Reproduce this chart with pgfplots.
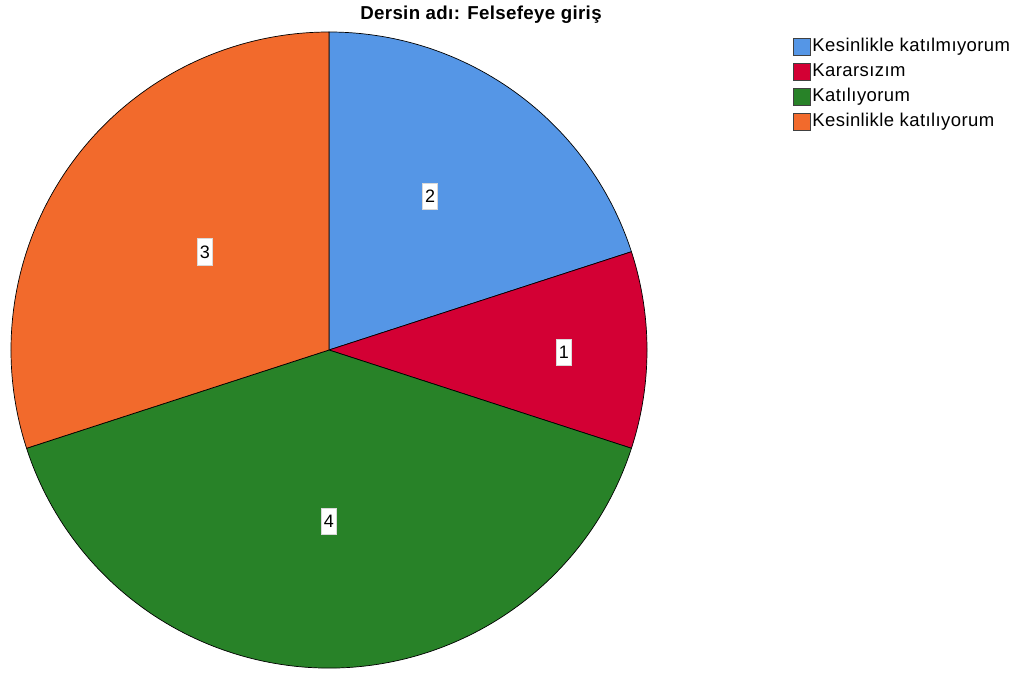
\documentclass[border=0pt]{standalone}
\usepackage{pgfplots}
\pgfplotsset{compat=1.18}
\usepackage{pgfplotstable}
\usepackage{fontspec}
\setmainfont{Liberation Sans}
\newfontfamily\legfont{Liberation Sans}[LetterSpace=2.2]
\newfontfamily\titfont{Liberation Sans}[LetterSpace=1.8]
\definecolor{cA}{RGB}{85,150,230}
\definecolor{cB}{RGB}{211,0,52}
\definecolor{cC}{RGB}{40,130,40}
\definecolor{cD}{RGB}{242,106,44}
\tikzset{lbl/.style={fill=white, draw=white!85!black, line width=0.4pt, inner xsep=2.5pt, inner ysep=7pt,
    font=\fontsize{18}{20}\selectfont}}

% value = count; lr = label distance (fraction of radius); la = label angle shift
\pgfplotstableread{
value lr la
2 0.579 2.7
1 0.739 -0.5
4 0.538 0
3 0.497 -2.3
}\piedata

\newcommand\getval[3]{\pgfplotstablegetelem{#1}{#2}\of\piedata\global\let#3\pgfplotsretval}

\begin{document}%
\begin{tikzpicture}
\getval{0}{value}\vA \getval{1}{value}\vB \getval{2}{value}\vC \getval{3}{value}\vD
\getval{0}{lr}\rA \getval{1}{lr}\rB \getval{2}{lr}\rC \getval{3}{lr}\rD
\getval{0}{la}\sA \getval{1}{la}\sB \getval{2}{la}\sC \getval{3}{la}\sD
\pgfmathsetmacro\tot{\vA+\vB+\vC+\vD}
\pgfmathsetmacro\aA{90}
\pgfmathsetmacro\aB{\aA-360*\vA/\tot}
\pgfmathsetmacro\aC{\aB-360*\vB/\tot}
\pgfmathsetmacro\aD{\aC-360*\vC/\tot}
\pgfmathsetmacro\aE{\aD-360*\vD/\tot}
\pgfmathsetmacro\mA{(\aA+\aB)/2+\sA}
\pgfmathsetmacro\mB{(\aB+\aC)/2+\sB}
\pgfmathsetmacro\mC{(\aC+\aD)/2+\sC}
\pgfmathsetmacro\mD{(\aD+\aE)/2+\sD}
\pgfmathsetmacro\dA{\rA*318}
\pgfmathsetmacro\dB{\rB*318}
\pgfmathsetmacro\dC{\rC*318}
\pgfmathsetmacro\dD{\rD*318}
\begin{axis}[
  width=1020pt, height=673pt, scale only axis,
  xmin=0, xmax=1020, ymin=0, ymax=673,
  enlargelimits=false, hide axis, clip=false,
  legend image code/.code={\draw[#1,draw=black!75,line width=0.7pt] (0pt,-8.5pt) rectangle (17pt,8.5pt);},
  legend cell align=left,
  legend style={at={(793/1020,1-38/673)}, anchor=north west, draw=none, fill=none,
    inner sep=0pt, row sep=7pt, column sep=1pt,
    font=\legfont\fontsize{18.5}{20}\selectfont,
    nodes={inner sep=0.5pt, text height=13pt, text depth=4pt}},
]
\addlegendimage{fill=cA}\addlegendentry{Kesinlikle katılmıyorum}
\addlegendimage{fill=cB}\addlegendentry{Kararsızım}
\addlegendimage{fill=cC}\addlegendentry{Katılıyorum}
\addlegendimage{fill=cD}\addlegendentry{Kesinlikle katılıyorum}
\filldraw[fill=cA, draw=black, line width=0.7pt] (axis cs:329,323) -- ++(\aA:318pt) arc[start angle=\aA, end angle=\aB, radius=318pt] -- cycle;
\filldraw[fill=cB, draw=black, line width=0.7pt] (axis cs:329,323) -- ++(\aB:318pt) arc[start angle=\aB, end angle=\aC, radius=318pt] -- cycle;
\filldraw[fill=cC, draw=black, line width=0.7pt] (axis cs:329,323) -- ++(\aC:318pt) arc[start angle=\aC, end angle=\aD, radius=318pt] -- cycle;
\filldraw[fill=cD, draw=black, line width=0.7pt] (axis cs:329,323) -- ++(\aD:318pt) arc[start angle=\aD, end angle=\aE, radius=318pt] -- cycle;
\path (axis cs:329,323) ++(\mA:\dA pt) node[lbl] {\vA};
\path (axis cs:329,323) ++(\mB:\dB pt) node[lbl] {\vB};
\path (axis cs:329,323) ++(\mC:\dC pt) node[lbl] {\vC};
\path (axis cs:329,323) ++(\mD:\dD pt) node[lbl] {\vD};
\node[font=\titfont\bfseries\fontsize{18.7}{20}\selectfont] at (axis cs:481,658) {Dersin adı: Felsefeye giriş};
\end{axis}
\pgfresetboundingbox
\useasboundingbox (current axis.south west) rectangle (current axis.north east);
\end{tikzpicture}%
\end{document}
